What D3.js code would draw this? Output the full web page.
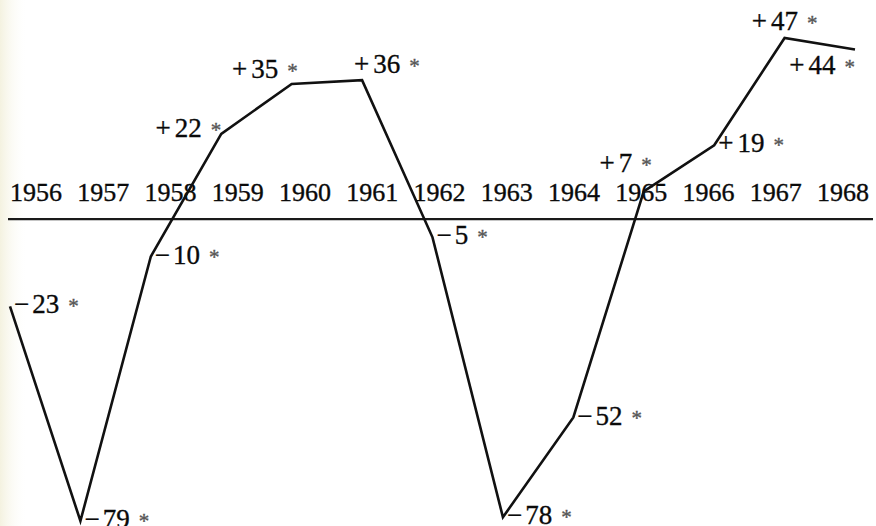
<!DOCTYPE html>
<html>
<head>
<meta charset="utf-8">
<script src="https://cdn.jsdelivr.net/npm/d3@7"></script>
<style>
  html, body { margin: 0; padding: 0; background: #fff; }
  svg { display: block; }
  text { font-family: "Liberation Serif", "DejaVu Serif", serif; fill: #0a0a0a; stroke: #0a0a0a; stroke-width: 0.35px; }
</style>
</head>
<body>
<div id="chart"></div>
<script>
const years = [1956, 1957, 1958, 1959, 1960, 1961, 1962, 1963, 1964, 1965, 1966, 1967, 1968];
const values = [-23, -79, -10, 22, 35, 36, -5, -78, -52, 7, 19, 47, 44];

// where a value label sits next to its point (default: to the right)
const labelSide = {1959: "left", 1960: "upLeft", 1961: "upRight", 1965: "overLeft", 1967: "over", 1968: "underLeft"};
const place = {
    right:     {dx: 4,  dy: -2,  anchor: "start"},
    left:      {dx: 0,  dy: -6,  anchor: "end"},
    upLeft:    {dx: 6,  dy: -15, anchor: "end"},
    upRight:   {dx: -8, dy: -16, anchor: "start"},
    overLeft:  {dx: 8,  dy: -28, anchor: "end"},
    over:      {dx: 0,  dy: -17, anchor: "middle"},
    underLeft: {dx: 0,  dy: 15,  anchor: "end"}
};

const width = 876;
const height = 526;

const data = years.map((year, i) => ({year, value: values[i]}));

const svg = d3.select("#chart")
    .append("svg")
        .attr("width", width)
        .attr("height", height);

// faint yellow tint of the scan on the left edge
const grad = svg.append("defs").append("linearGradient")
    .attr("id", "tint");
grad.append("stop").attr("offset", "0%").attr("stop-color", "#f4f2e0");
grad.append("stop").attr("offset", "100%").attr("stop-color", "#fff").attr("stop-opacity", 0);
svg.append("rect")
    .attr("width", 28)
    .attr("height", height)
    .attr("fill", "url(#tint)");

const x = d3.scaleLinear()
    .domain(d3.extent(years))
    .range([10, 855]);

const y = d3.scaleLinear()
    .domain([-79, 47])
    .range([521, 38]);

const yearPos = d3.scalePoint()
    .domain(years)
    .range([36, 843]);

// zero line
svg.append("line")
    .attr("x1", 8)
    .attr("x2", 873)
    .attr("y1", y(0) + 1)
    .attr("y2", y(0) + 1)
    .attr("stroke", "#1a1a1a")
    .attr("stroke-width", 2.2);

// year row above the zero line
svg.append("g")
    .selectAll("text")
    .data(years)
    .join("text")
        .attr("x", d => yearPos(d))
        .attr("y", y(0) - 17)
        .attr("text-anchor", "middle")
        .attr("font-size", 26)
        .text(d => d);

svg.append("path")
    .datum(data)
    .attr("fill", "none")
    .attr("stroke", "#111")
    .attr("stroke-width", 2.6)
    .attr("stroke-linejoin", "miter")
    .attr("d", d3.line().x(d => x(d.year)).y(d => y(d.value)));

svg.append("g")
    .selectAll("text")
    .data(data)
    .join("text")
        .attr("font-size", 27)
        .each(function(d) {
            const p = place[labelSide[d.year] || "right"];
            const t = d3.select(this)
                .attr("x", x(d.year) + p.dx)
                .attr("y", y(d.value) + p.dy + 9)
                .attr("text-anchor", p.anchor);
            t.append("tspan").text(d.value < 0 ? "\u2212" : "+");
            t.append("tspan").attr("dx", d.value < 0 ? 3 : 4).text(Math.abs(d.value));
            t.append("tspan")
                .attr("dx", 9)
                .attr("font-size", 21)
                .attr("fill", "#555")
                .attr("stroke", "#555")
                .text("*");
        });
</script>
</body>
</html>
